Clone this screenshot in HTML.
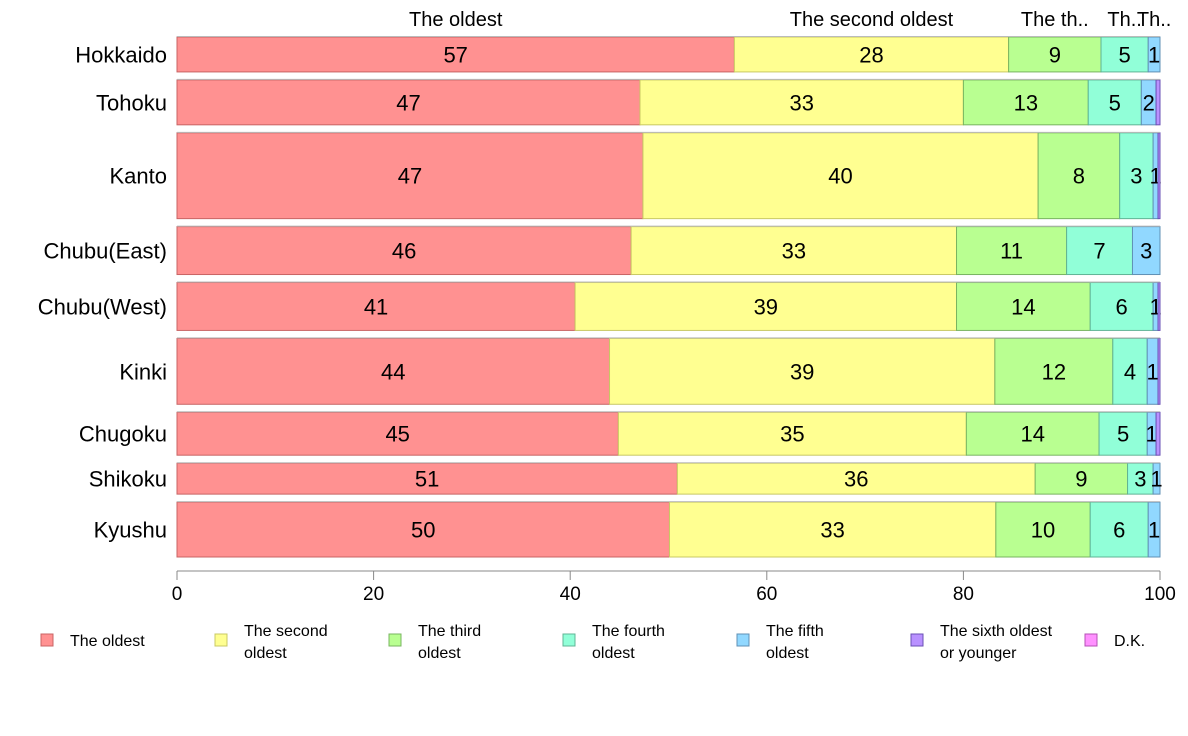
<!DOCTYPE html>
<html><head><meta charset="utf-8"><style>
body{margin:0;background:#fff;}
svg{display:block;font-family:"Liberation Sans",Arial,sans-serif;}
</style></head><body>
<svg id="chart" width="1188" height="736" viewBox="0 0 1188 736" xmlns="http://www.w3.org/2000/svg">
<g id="plot"></g>
<g id="xaxis"></g>
<g id="legend"></g>
</svg>
<script>
const regions = ["Hokkaido","Tohoku","Kanto","Chubu(East)","Chubu(West)","Kinki","Chugoku","Shikoku","Kyushu"];
const rowWeights = [35,45,86,48,48,66,43,31,55];
const seriesNames = ["The oldest","The second oldest","The third oldest","The fourth oldest","The fifth oldest","The sixth oldest or younger","D.K."];
const oldest  = [56.7,47.1,47.4,46.2,40.5,44.0,44.9,50.9,50.1];
const second  = [27.9,32.9,40.2,33.1,38.8,39.2,35.4,36.4,33.2];
const third   = [9.4,12.7,8.3,11.2,13.6,12.0,13.5,9.4,9.6];
const fourth  = [4.8,5.4,3.4,6.7,6.4,3.5,4.9,2.6,5.9];
const fifth   = [1.2,1.5,0.5,2.8,0.5,1.1,0.9,0.7,1.2];
const sixth   = [0.0,0.4,0.2,0.0,0.2,0.2,0.4,0.0,0.0];
const dk      = [0.0,0.0,0.0,0.0,0.0,0.0,0.0,0.0,0.0];
const xTicks = [0,20,40,60,80,100];
const legendLines = [["The oldest"],["The second","oldest"],["The third","oldest"],["The fourth","oldest"],["The fifth","oldest"],["The sixth oldest","or younger"],["D.K."]];

const series=[oldest,second,third,fourth,fifth,sixth,dk];
const fills=["#FF9191","#FFFF91","#B9FF91","#91FFD8","#91D8FF","#B991FF","#FF91FF"];
const strokes=["#C86464","#C8C864","#78B460","#60B496","#6090B4","#6A50B4","#B450B4"];
const NS="http://www.w3.org/2000/svg";
const X0=177,X1=1160,Y0=37,Y1=557,GAP=8;
const xs=v=>X0+(X1-X0)*v/100;
function mk(tag,attrs,parent,text){const e=document.createElementNS(NS,tag);for(const k in attrs)e.setAttribute(k,attrs[k]);if(text!==undefined)e.textContent=text;parent.appendChild(e);return e;}
const plot=document.getElementById('plot');
const totalW=rowWeights.reduce((a,b)=>a+b,0);
const avail=(Y1-Y0)-GAP*(regions.length-1);
let y=Y0;
regions.forEach((r,i)=>{
  const h=avail*rowWeights[i]/totalW;
  const g=mk('g',{},plot);
  
  
  const lab=mk('text',{x:167,y:y+h/2+8,'text-anchor':'end','font-size':22,fill:'#000'},g,r);
  
  
  let cum=0;
  series.forEach((s,j)=>{
    const v=s[i];
    if(v<=0)return;
    const xa=xs(cum),xb=xs(cum+v);
    const rc=mk('rect',{x:xa,y:y,width:xb-xa,height:h,fill:fills[j],stroke:strokes[j],'stroke-width':1},g);
    
    
    if(Math.round(v)>=1){
      const t=mk('text',{x:(xa+xb)/2,y:y+h/2+8,'text-anchor':'middle','font-size':22,fill:'#000'},g,String(Math.round(v)));
      
      
    }
    if(i===0){
      let nm=seriesNames[j];
      const w=xb-xa;
      if(nm.length*10>w){nm=w>60?"The th..":"Th..";}
      const t=mk('text',{x:(xa+xb)/2,y:26,'text-anchor':'middle','font-size':20,fill:'#000'},g,nm);
      
      
    }
    cum+=v;
  });
  mk('line',{x1:X0,x2:X1,y1:y-0.5,y2:y-0.5,stroke:'#bbb','stroke-width':1},g);
  y+=h+GAP;
});
const xa=document.getElementById('xaxis');
mk('line',{x1:X0,x2:X1,y1:571,y2:571,stroke:'#888','stroke-width':1},xa);
xTicks.forEach(t=>{
  const l=mk('line',{x1:xs(t),x2:xs(t),y1:571,y2:580,stroke:'#888','stroke-width':1},xa);
  
  
  const tx=mk('text',{x:xs(t),y:600,'text-anchor':'middle','font-size':19,fill:'#000'},xa,String(t));
  
  
});
const lg=document.getElementById('legend');
legendLines.forEach((lines,j)=>{
  const bx=41+j*174;
  const g=mk('g',{},lg);
  
  
  mk('rect',{x:bx,y:634,width:12,height:12,fill:fills[j],stroke:strokes[j],'stroke-width':1},g);
  if(lines.length===1){mk('text',{x:bx+29,y:646,'font-size':16,fill:'#000'},g,lines[0]);}
  else{mk('text',{x:bx+29,y:636,'font-size':16,fill:'#000'},g,lines[0]);mk('text',{x:bx+29,y:658,'font-size':16,fill:'#000'},g,lines[1]);}
});
</script>
</body></html>
